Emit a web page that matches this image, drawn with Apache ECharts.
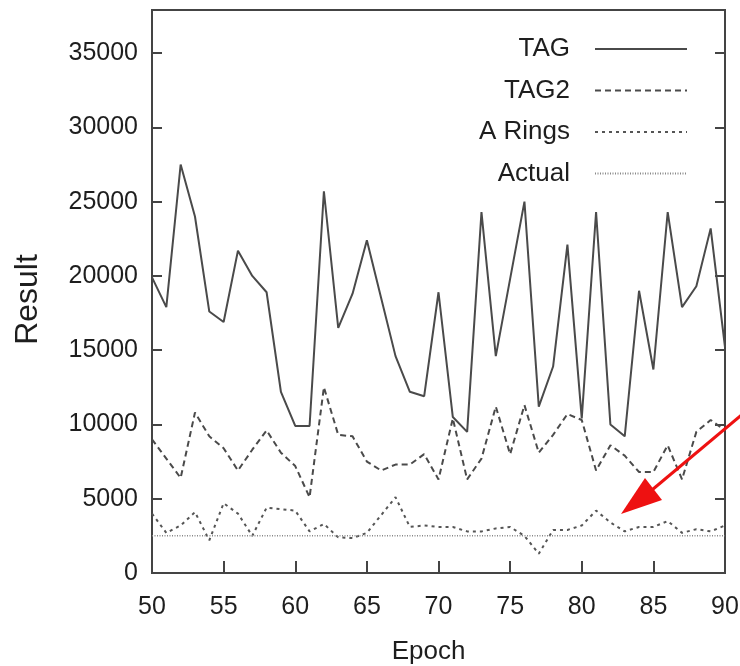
<!DOCTYPE html>
<html>
<head>
<meta charset="utf-8">
<script src="https://cdn.jsdelivr.net/npm/echarts@6/dist/echarts.min.js"></script>
<style>
  html, body { margin: 0; padding: 0; background: #fff; }
  #chart { width: 740px; height: 666px; }
</style>
</head>
<body>
<div id="chart"></div>
<script>
const epochs = [50,51,52,53,54,55,56,57,58,59,60,61,62,63,64,65,66,67,68,69,70,71,72,73,74,75,76,77,78,79,80,81,82,83,84,85,86,87,88,89,90];
const tag = [19900,17900,27500,24000,17600,16900,21700,20000,18900,12200,9900,
             9900,25700,16500,18800,22400,18500,14600,12200,11900,18900,
             10500,9500,24300,14600,19800,25000,11200,13900,22100,10400,
             24300,10000,9200,19000,13700,24300,17900,19300,23200,15200];
const tag2 = [9000,7700,6400,10800,9200,8400,6900,8300,9600,8100,7200,
              5100,12500,9300,9200,7500,6900,7300,7300,8000,6300,
              10400,6300,7700,11200,8000,11300,8100,9300,10700,10300,
              6900,8600,7900,6800,6800,8600,6300,9500,10300,9600];
const aRings = [4000,2700,3200,4100,2200,4700,4000,2500,4400,4300,4200,
                2800,3300,2400,2350,2700,3900,5100,3100,3200,3100,
                3100,2800,2800,3000,3100,2500,1300,2900,2900,3200,
                4200,3400,2800,3100,3100,3500,2700,2950,2800,3200];
const actualEpochs = [50, 90];
const actualValues = [2500, 2500];
const xTicks = [50,55,60,65,70,75,80,85,90];
const yTicks = [0,5000,10000,15000,20000,25000,30000,35000];

const pairs = (xs, ys) => xs.map((x, i) => [x, ys[i]]);

const chart = echarts.init(document.getElementById('chart'), null, { renderer: 'canvas' });
const FONT = 'Liberation Sans, Arial, Helvetica, sans-serif';
const TXT = '#1e1e1e';
const AX = '#444';

const yAxisBase = {
  type: 'value', min: yTicks[0], max: 37900, interval: 5000,
  axisLine: { show: true, lineStyle: { color: AX, width: 2 } },
  axisTick: { show: true, inside: true, length: 10, lineStyle: { color: AX, width: 2 } },
  splitLine: { show: false }
};

chart.setOption({
  animation: false,
  backgroundColor: '#fff',
  grid: { left: 152, right: 15, top: 10, bottom: 93, show: true, borderColor: AX, borderWidth: 2,
          outerBoundsMode: 'none', containLabel: false },
  legend: {
    orient: 'vertical', right: 47, top: 31, align: 'right',
    itemWidth: 92, itemHeight: 20, itemGap: 15.5,
    itemStyle: { opacity: 0 },
    textStyle: { fontFamily: FONT, fontSize: 26, lineHeight: 26, color: TXT, padding: [0, 20, 0, 0] },
    data: ['TAG', 'TAG2', 'A Rings', 'Actual']
  },
  xAxis: {
    type: 'value', min: xTicks[0], max: xTicks[xTicks.length - 1], interval: 5,
    name: 'Epoch', nameLocation: 'middle', nameGap: 66,
    nameTextStyle: { fontFamily: FONT, fontSize: 26, color: TXT, padding: [0, 20, 0, 0] },
    axisLine: { show: true, lineStyle: { color: AX, width: 2 } },
    axisTick: { show: true, inside: true, length: 12, lineStyle: { color: AX, width: 2 } },
    axisLabel: { fontFamily: FONT, fontSize: 25, color: TXT, margin: 22 },
    splitLine: { show: false }
  },
  yAxis: [
    Object.assign({}, yAxisBase, {
      name: 'Result', nameLocation: 'middle', nameGap: 108,
      nameTextStyle: { fontFamily: FONT, fontSize: 32, color: TXT, padding: [0, 16, 0, 0] },
      axisLabel: { fontFamily: FONT, fontSize: 25, color: TXT, margin: 14, showMaxLabel: false,
                   padding: [6, 0, 0, 0], formatter: v => String(v) }
    }),
    Object.assign({}, yAxisBase, {
      position: 'right',
      axisLabel: { show: false }
    })
  ],
  series: [
    { name: 'TAG', type: 'line', data: pairs(epochs, tag), symbol: 'none',
      lineStyle: { color: '#4a4a4a', width: 2, type: 'solid' }, itemStyle: { color: '#4a4a4a' } },
    { name: 'TAG2', type: 'line', data: pairs(epochs, tag2), symbol: 'none',
      lineStyle: { color: '#4a4a4a', width: 2, type: [6, 4] }, itemStyle: { color: '#4a4a4a' } },
    { name: 'A Rings', type: 'line', data: pairs(epochs, aRings), symbol: 'none',
      lineStyle: { color: '#555', width: 2, type: [3, 4] }, itemStyle: { color: '#555' } },
    { name: 'Actual', type: 'line', data: pairs(actualEpochs, actualValues), symbol: 'none',
      lineStyle: { color: '#888', width: 1.5, type: [1, 1.5] }, itemStyle: { color: '#888' } }
  ],
  graphic: [
    { type: 'line', shape: { x1: 745, y1: 412, x2: 640, y2: 500 },
      style: { stroke: '#ee1111', lineWidth: 3 }, z: 100 },
    { type: 'polygon', shape: { points: [[621, 514], [645, 478], [662, 500]] },
      style: { fill: '#ee1111' }, z: 100 }
  ]
});
</script>
</body>
</html>
